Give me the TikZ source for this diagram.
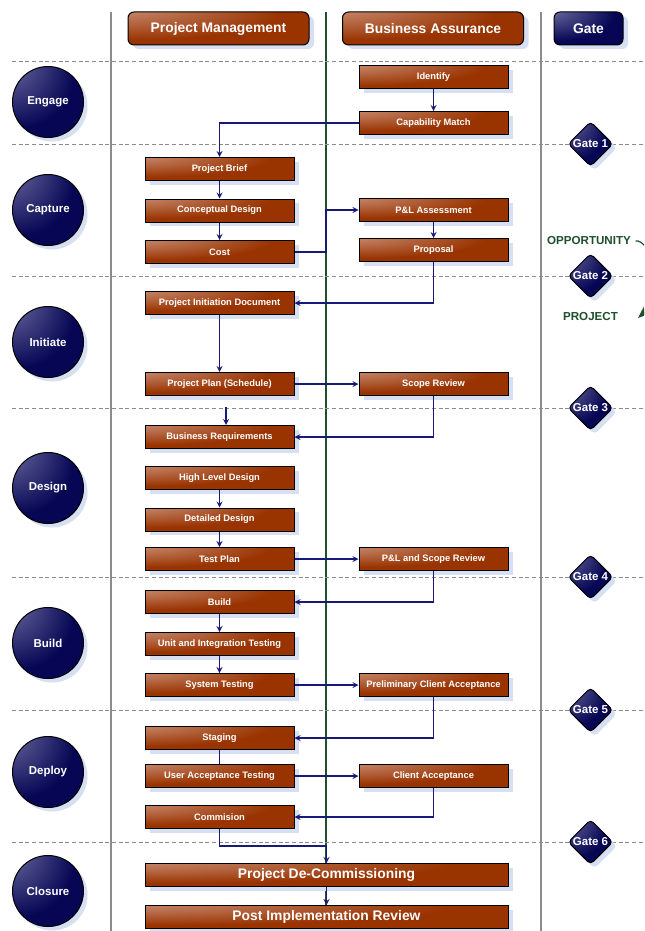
\documentclass[tikz,border=0pt]{standalone}
\usepackage{fontspec}
\setmainfont{Liberation Sans}
\usetikzlibrary{shapes.geometric,shadows,arrows.meta}

\definecolor{boxbrown}{RGB}{153,51,0}
\definecolor{boxlight}{RGB}{232,200,190}
\definecolor{phasenavy}{RGB}{6,6,84}
\definecolor{phaselight}{RGB}{184,184,218}
\definecolor{shadowblue}{RGB}{214,224,242}
\definecolor{flowblue}{RGB}{25,25,120}
\definecolor{swimgreen}{RGB}{30,80,45}
\definecolor{gridgray}{RGB}{140,140,140}

\pgfdeclareradialshading{boxglow}{\pgfpoint{-42bp}{42bp}}{color(0bp)=(boxlight); color(14bp)=(boxlight!55!boxbrown); color(42bp)=(boxbrown); color(100bp)=(boxbrown)}
\pgfdeclareradialshading{navyglow}{\pgfpoint{-36bp}{36bp}}{color(0bp)=(phaselight); color(14bp)=(phaselight!45!phasenavy); color(40bp)=(phasenavy); color(100bp)=(phasenavy)}

\tikzset{
  task/.style={rectangle, draw=black, line width=0.75pt, shade, shading=boxglow,
    minimum width=111.75pt, minimum height=17.25pt, inner sep=0pt,
    text=white, font=\fontsize{7}{8}\selectfont\bfseries,
    drop shadow={fill=shadowblue, opacity=1, shadow xshift=3.75pt, shadow yshift=-3pt}},
  bigtask/.style={task, minimum width=272.25pt, font=\fontsize{10.4}{12}\selectfont\bfseries},
  lanehead/.style={task, rounded corners=4.5pt, minimum width=135.75pt, minimum height=24.75pt,
    font=\fontsize{10.4}{12}\selectfont\bfseries},
  gatehead/.style={lanehead, minimum width=51.75pt, shading=navyglow},
  phase/.style={circle, draw=black, line width=0.75pt, shade, shading=navyglow,
    minimum size=53.25pt, inner sep=0pt,
    text=white, font=\fontsize{8.6}{10}\selectfont\bfseries,
    drop shadow={fill=shadowblue, opacity=1, shadow xshift=3pt, shadow yshift=-3pt}},
  gate/.style={phase, diamond, rounded corners=3pt, minimum size=33.75pt},
  flow/.style={->, draw=flowblue, line width=1pt},
  link/.style={draw=flowblue, line width=1pt},
  sep/.style={gridgray, densely dashed, line width=0.5pt},
  stage/.style={text=swimgreen, font=\fontsize{8.7}{10}\selectfont\bfseries},
}

\begin{document}
\begin{tikzpicture}[x=0.75pt,y=-0.75pt,>=stealth]
\clip (0,0) rectangle (644,931);
\fill[white] (0,0) rectangle (644,931);

\draw[gridgray, line width=0.8pt] (111,12)--(111,931);
\draw[gridgray, line width=0.8pt] (541,12)--(541,931);
\draw[swimgreen, line width=0.8pt] (326,12)--(326,931);
\foreach \y in {61,144,276,408,577,710,842}
{
    \draw[sep](12,\y)--(644,\y);
}
\coordinate (spine) at (326,0);

\node[lanehead] (pm) at (218.5,28.5) {Project Management};
\node[lanehead] (ba) at (433,28.5) {Business Assurance};
\node[gatehead] (gt) at (588.5,28.5) {Gate};

\foreach \y/\t [count=\i] in {102/Engage,210/Capture,342/Initiate,488/Design,643/Build,772/Deploy,891/Closure}
{
    \node[phase] (ph\i) at (48,\y) {\t};
}
\foreach \y [count=\i] in {144,276,408,577,710,842}
{
    \node[gate] (g\i) at (590.5,\y) {Gate \i};
}

\node[stage] (opp) at (589,241) {OPPORTUNITY};
\node[stage] (proj) at (590.5,317) {PROJECT};
\coordinate (turn) at (638,318);
\draw[-{Stealth[length=9pt,width=7pt]}, swimgreen, line width=0.9pt] (opp.east) .. controls (648,238) and (672,288) .. (turn);

\node[task] (ident) at (433.5,77.5) {Identify};
\node[task] (capab) at (433.5,123) {Capability Match};
\node[task] (brief) at (219.5,169) {Project Brief};
\node[task] (concept) at (219.5,210.5) {Conceptual Design};
\node[task] (cost) at (219.5,252) {Cost};
\node[task] (pla) at (433.5,210) {P\&L Assessment};
\node[task] (prop) at (433.5,250) {Proposal};
\node[task] (pid) at (219.5,303) {Project Initiation Document};
\node[task] (plan) at (219.5,384) {Project Plan (Schedule)};
\node[task] (scope) at (433.5,384) {Scope Review};
\node[task] (breq) at (219.5,437) {Business Requirements};
\node[task] (hld) at (219.5,478) {High Level Design};
\node[task] (dd) at (219.5,519.5) {Detailed Design};
\node[task] (tplan) at (219.5,559) {Test Plan};
\node[task] (plsr) at (433.5,559) {P\&L and Scope Review};
\node[task] (build) at (219.5,602) {Build};
\node[task] (uit) at (219.5,644) {Unit and Integration Testing};
\node[task] (systest) at (219.5,685) {System Testing};
\node[task] (pca) at (433.5,685) {Preliminary Client Acceptance};
\node[task] (staging) at (219.5,738) {Staging};
\node[task] (uat) at (219.5,776) {User Acceptance Testing};
\node[task] (client) at (433.5,776) {Client Acceptance};
\node[task] (comm) at (219.5,817) {Commision};
\node[bigtask] (pdc) at (326.5,875) {Project De-Commissioning};
\node[bigtask] (pir) at (326.5,917) {Post Implementation Review};

\draw[flow](ident)--(capab);
\draw[flow](capab.west)-|(brief.north);
\draw[flow](brief)--(concept);
\draw[flow](concept)--(cost);
\draw[flow](cost.east)-|(spine|-pla.west)--(pla.west);
\draw[flow](pla)--(prop);
\draw[flow](prop.south)|-(pid.east);
\draw[flow](pid)--(plan);
\draw[flow](plan)--(scope);
\coordinate (brin) at (226,407);
\draw[flow](brin)--(brin|-breq.north);
\draw[flow](scope.south)|-(breq.east);
\draw[flow](hld)--(dd);
\draw[flow](dd)--(tplan);
\draw[flow](tplan)--(plsr);
\draw[flow](plsr.south)|-(build.east);
\draw[flow](build)--(uit);
\draw[flow](uit)--(systest);
\draw[flow](systest)--(pca);
\draw[flow](pca.south)|-(staging.east);
\draw[link](staging)--(uat);
\draw[flow](uat)--(client);
\draw[flow](client.south)|-(comm.east);
\draw[flow](comm.south)--++(0,17)-|(pdc.north);
\draw[flow](pdc)--(pir);

\end{tikzpicture}
\end{document}
